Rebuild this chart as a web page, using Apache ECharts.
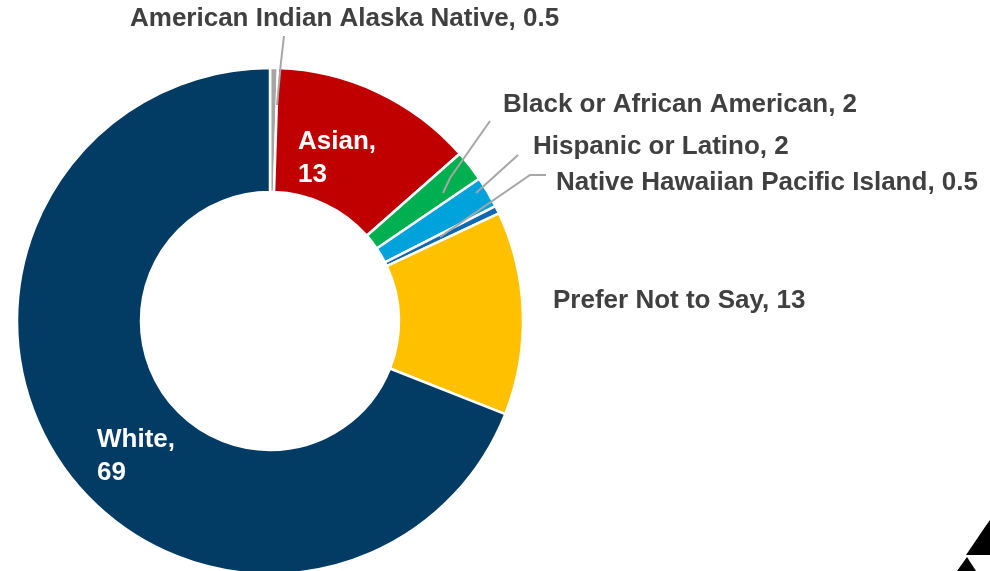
<!DOCTYPE html>
<html>
<head>
<meta charset="utf-8">
<script src="https://cdn.jsdelivr.net/npm/echarts@6/dist/echarts.min.js"></script>
<style>
  html, body { margin: 0; padding: 0; background: #ffffff; }
  #chart { width: 990px; height: 571px; }
</style>
</head>
<body>
<div id="chart"></div>
<script>
// Survey respondents by race / ethnicity (percent)
const categories = [
  'American Indian Alaska Native',
  'Asian',
  'Black or African American',
  'Hispanic or Latino',
  'Native Hawaiian Pacific Island',
  'Prefer Not to Say',
  'White'
];
const values = [0.5, 13, 2, 2, 0.5, 13, 69];
const colors = ['#A5A5A5', '#C00000', '#00B050', '#00A2DB', '#1068B0', '#FFC000', '#023B63'];

// Label placement: [left x, middle y] and leader line bends for each slice
const labelSpots = [
  { x: 130, y: 19, line: [[277, 105], [281, 62], [284, 36]] },
  { x: 298, y: 158, inside: true },
  { x: 503, y: 105, line: [[443, 193], [450, 178], [490, 121]] },
  { x: 533, y: 147, line: [[476, 193], [518, 155]] },
  { x: 556, y: 183, line: [[440, 237], [530, 175], [546, 175]] },
  { x: 553, y: 301 },
  { x: 97, y: 456, inside: true }
];

const textFont = 'Liberation Sans, Arial, sans-serif';
const center = [270, 321];
const radius = [129, 253];

function buildData(forLabels) {
  return categories.map((name, i) => {
    const spot = labelSpots[i];
    const item = {
      name: name,
      value: values[i],
      itemStyle: forLabels
        ? { color: 'rgba(0,0,0,0)', borderWidth: 0 }
        : { color: colors[i] }
    };
    if (forLabels) {
      if (spot.inside) {
        item.label = { color: '#ffffff', formatter: '{b},\n{c}' };
        item.labelLine = { show: false };
      } else if (!spot.line) {
        item.labelLine = { show: false };
      }
    }
    return item;
  });
}

const chart = echarts.init(document.getElementById('chart'), null, { renderer: 'canvas' });

chart.setOption({
  backgroundColor: '#ffffff',
  animation: false,
  series: [
    {
      // the ring itself
      type: 'pie',
      center: center,
      radius: radius,
      startAngle: 90,
      clockwise: true,
      silent: true,
      itemStyle: { borderColor: '#ffffff', borderWidth: 2.5 },
      label: { show: false },
      labelLine: { show: false },
      emphasis: { disabled: true },
      data: buildData(false)
    },
    {
      // labels and leader lines, drawn above the ring
      type: 'pie',
      z: 3,
      center: center,
      radius: radius,
      startAngle: 90,
      clockwise: true,
      silent: true,
      avoidLabelOverlap: false,
      label: {
        show: true,
        position: 'outside',
        formatter: '{b}, {c}',
        fontFamily: textFont,
        fontWeight: 'bold',
        fontSize: 26,
        lineHeight: 33,
        color: '#404040'
      },
      labelLine: {
        show: true,
        lineStyle: { color: '#A6A6A6', width: 2 }
      },
      labelLayout: function (params) {
        const spot = labelSpots[params.dataIndex];
        const out = {
          x: spot.x,
          y: spot.y,
          align: 'left',
          verticalAlign: 'middle',
          hideOverlap: false
        };
        if (spot.line) {
          out.labelLinePoints = spot.line;
        }
        return out;
      },
      emphasis: { disabled: true },
      data: buildData(true)
    }
  ],
  graphic: [
    {
      type: 'polygon',
      shape: { points: [[985, 527], [966, 555], [990, 555], [990, 520]] },
      style: { fill: '#000000' }
    },
    {
      type: 'polygon',
      shape: { points: [[967, 557], [957, 571], [976, 571]] },
      style: { fill: '#000000' }
    }
  ]
});
</script>
</body>
</html>
